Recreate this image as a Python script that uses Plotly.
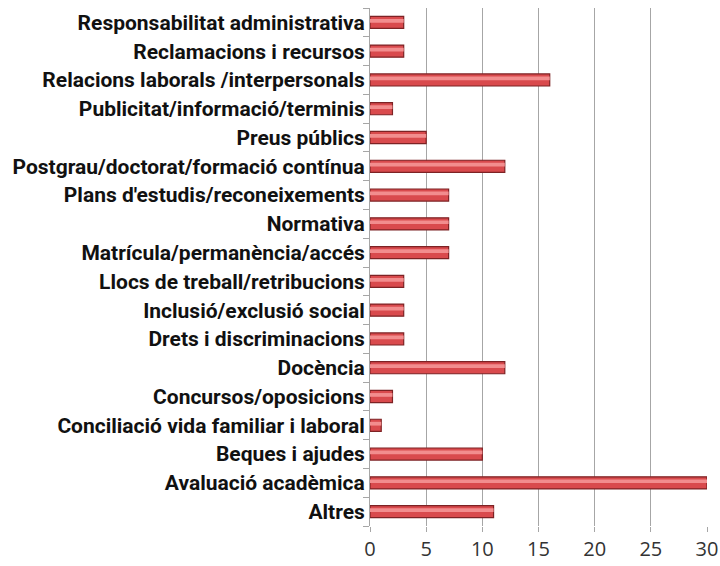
import plotly.graph_objects as go

categories = [
    "Responsabilitat administrativa",
    "Reclamacions i recursos",
    "Relacions laborals /interpersonals",
    "Publicitat/informació/terminis",
    "Preus públics",
    "Postgrau/doctorat/formació contínua",
    "Plans d'estudis/reconeixements",
    "Normativa",
    "Matrícula/permanència/accés",
    "Llocs de treball/retribucions",
    "Inclusió/exclusió social",
    "Drets i discriminacions",
    "Docència",
    "Concursos/oposicions",
    "Conciliació vida familiar i laboral",
    "Beques i ajudes",
    "Avaluació acadèmica",
    "Altres",
]
values = [3, 3, 16, 2, 5, 12, 7, 7, 7, 3, 3, 3, 12, 2, 1, 10, 30, 11]
x_ticks = [0, 5, 10, 15, 20, 25, 30]

# plot bottom-to-top: reverse
cats_r = categories[::-1]
vals_r = values[::-1]

fig = go.Figure()
fig.add_trace(go.Bar(
    y=cats_r, x=vals_r, orientation="h", width=0.42,
    marker=dict(color="#d94a4d", line=dict(color="#7d2224", width=1.2)),
    hoverinfo="x+y",
))
# highlight stripe for a cylinder-like look
fig.add_trace(go.Bar(
    y=cats_r, x=vals_r, orientation="h", width=0.13,
    marker=dict(color="#f28d8e", line=dict(width=0)),
    hoverinfo="skip", offset=-0.01,
))
fig.update_layout(
    width=720, height=566,
    margin=dict(l=370, r=13, t=8, b=40),
    paper_bgcolor="white", plot_bgcolor="white",
    showlegend=False, barmode="overlay",
    font=dict(family="Roboto, sans-serif", color="#000000"),
)
fig.update_xaxes(
    range=[0, 30], tickvals=x_ticks, showgrid=True, gridcolor="#a6a6a6", gridwidth=1,
    showline=False, zeroline=False, ticks="outside", ticklen=5, tickcolor="#a6a6a6",
    tickfont=dict(size=20, family="'Open Sans'", color="#333333"), automargin=False,
)
fig.update_yaxes(
    showline=True, linecolor="#a6a6a6", linewidth=1,
    ticks="outside", ticklen=6, tickcolor="#a6a6a6", tickson="boundaries",
    tickfont=dict(size=21, family="Roboto", color="#111111", weight="bold"),
    showgrid=False, automargin=False,
)
fig.write_html(
    "out.html",
    config={"displayModeBar": False},
    post_script="document.body.style.margin='0';document.body.style.overflow='hidden';",
)
